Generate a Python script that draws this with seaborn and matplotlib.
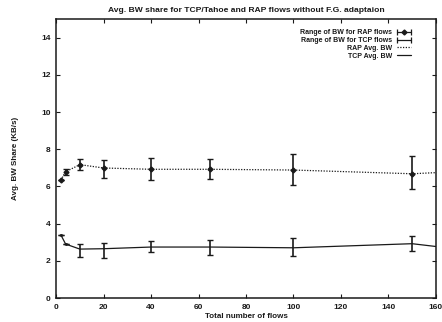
import matplotlib
matplotlib.use("Agg")
import matplotlib.pyplot as plt
import seaborn as sns
import numpy as np
import pandas as pd
from matplotlib.lines import Line2D
from matplotlib.legend_handler import HandlerLine2D, HandlerTuple

# ---- data ----
flows = [2, 4, 10, 20, 40, 65, 100, 150]
rap_mean = [6.34, 6.79, 7.17, 6.99, 6.92, 6.92, 6.88, 6.68]
rap_hi = [6.34, 6.95, 7.46, 7.40, 7.52, 7.46, 7.75, 7.64]
rap_lo = [6.34, 6.63, 6.88, 6.45, 6.33, 6.42, 6.05, 5.88]
tcp_mean = [3.39, 2.90, 2.63, 2.65, 2.74, 2.74, 2.70, 2.92]
tcp_hi = [3.39, 2.90, 2.92, 2.96, 3.04, 3.13, 3.20, 3.35]
tcp_lo = [3.39, 2.90, 2.20, 2.15, 2.45, 2.30, 2.27, 2.54]

avg_flows = [2, 4, 10, 20, 40, 65, 100, 150, 160]
rap_avg = [6.34, 6.79, 7.17, 6.99, 6.92, 6.92, 6.88, 6.68, 6.74]
tcp_avg = [3.39, 2.90, 2.63, 2.65, 2.74, 2.74, 2.70, 2.92, 2.77]

x_ticks = [0, 20, 40, 60, 80, 100, 120, 140, 160]
y_ticks = [0, 2, 4, 6, 8, 10, 12, 14]

title = "Avg. BW share for TCP/Tahoe and RAP flows without F.G. adaptaion"
xlabel = "Total number of flows"
ylabel = "Avg. BW Share (KB/s)"
labels = ["Range of BW for RAP flows", "Range of BW for TCP flows",
          "RAP Avg. BW", "TCP Avg. BW"]

sns.set_style("ticks")
plt.rcParams['font.family'] = ['Liberation Sans', 'DejaVu Sans']
plt.rcParams['font.weight'] = 'bold'

fig = plt.figure(figsize=(4.42, 3.22), dpi=100)
ax = fig.add_axes([0.127, 0.0745, 0.859, 0.8665])

dark = "#1a1a1a"

avg_df = pd.DataFrame({"flows": avg_flows, "rap": rap_avg, "tcp": tcp_avg})
sns.lineplot(data=avg_df, x="flows", y="rap", ax=ax, color=dark,
             linestyle=(0, (1, 1.2)), linewidth=0.9)
sns.lineplot(data=avg_df, x="flows", y="tcp", ax=ax, color=dark,
             linestyle="-", linewidth=0.9)

rm = np.array(rap_mean)
tm = np.array(tcp_mean)
ax.errorbar(flows, rm, yerr=[rm - np.array(rap_lo), np.array(rap_hi) - rm],
            fmt="D", ms=2.5, color=dark, ecolor=dark, elinewidth=1.2,
            capsize=2.5, capthick=1.0, linestyle="none")
ax.errorbar(flows, tm, yerr=[tm - np.array(tcp_lo), np.array(tcp_hi) - tm],
            fmt="none", color=dark, ecolor=dark, elinewidth=1.2,
            capsize=2.5, capthick=1.0)
sns.scatterplot(x=flows[:2], y=tcp_mean[:2], ax=ax, color=dark, s=4,
                marker="o", edgecolor=dark, legend=False)

ax.set_xlim(0, 160)
ax.set_ylim(0, 15)
ax.set_xticks(x_ticks)
ax.set_yticks(y_ticks)
ax.tick_params(direction="in", top=True, right=True, length=3, width=0.8,
               labelsize=6, pad=4, colors=dark)
for s in ax.spines.values():
    s.set_linewidth(1.1)
    s.set_color(dark)

ax.set_title(title, fontsize=6.1, pad=5, color=dark, fontweight="bold")
ax.set_xlabel(xlabel, fontsize=5.8, labelpad=1.5, color=dark, fontweight="bold")
ax.set_ylabel(ylabel, fontsize=5.8, labelpad=16, color=dark, fontweight="bold")

h_caps_r = Line2D([], [], color=dark, lw=0.9, marker="|", ms=4, mew=0.9)
h_dia = Line2D([], [], color=dark, lw=0, marker="D", ms=2.5)
h_caps_t = Line2D([], [], color=dark, lw=0.9, marker="|", ms=4, mew=0.9)
h_rap = Line2D([], [], color=dark, lw=0.9, linestyle=(0, (1, 1.2)))
h_tcp = Line2D([], [], color=dark, lw=0.9, linestyle="-")
leg = ax.legend([(h_caps_r, h_dia), h_caps_t, h_rap, h_tcp], labels,
                loc="upper right", bbox_to_anchor=(0.95, 0.975),
                frameon=False, markerfirst=False, fontsize=5.0,
                handlelength=2.6, handletextpad=0.5, labelspacing=0.1,
                numpoints=2, borderpad=0,
                handler_map={tuple: HandlerTuple(ndivide=1),
                             h_dia: HandlerLine2D(numpoints=1)})
for t in leg.get_texts():
    t.set_ha("right")
    t.set_color(dark)

fig.savefig("out.png", dpi=100)
